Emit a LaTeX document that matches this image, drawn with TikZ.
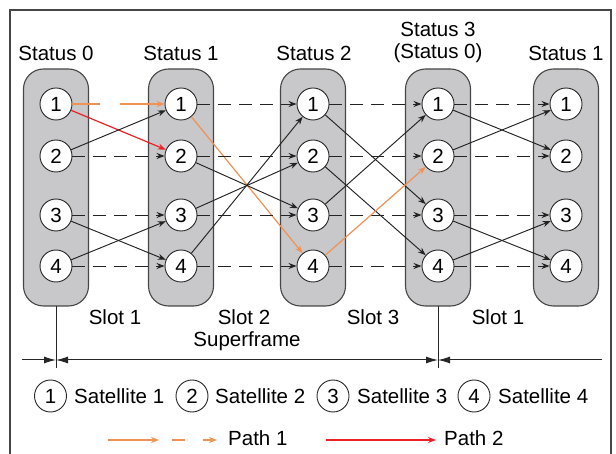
\documentclass[tikz,border=0pt]{standalone}
\usepackage{fontspec}
\setmainfont{Liberation Sans}
\usetikzlibrary{arrows.meta}
\definecolor{boxgray}{RGB}{200,200,202}
\definecolor{edgegray}{RGB}{70,70,70}
\definecolor{pathone}{RGB}{240,145,85}
\definecolor{pathtwo}{RGB}{236,32,38}
\definecolor{linkgray}{RGB}{35,35,35}
\tikzset{
  lane/.style={draw=edgegray, line width=1.1pt, fill=boxgray, rounded corners=20pt},
  sat/.style={circle, draw=black!85, line width=0.9pt, fill=white, minimum size=32pt, inner sep=0pt, font=\fontsize{20.5}{22}\selectfont},
  legsat/.style={circle, draw=black!85, line width=0.9pt, minimum size=32pt, inner sep=0pt, font=\fontsize{20.5}{22}\selectfont},
  lbl/.style={font=\fontsize{20.5}{24}\selectfont, inner sep=0pt},
  tip/.style={-{Stealth[length=8pt,width=6pt]}},
  link/.style={tip, draw=linkgray, line width=0.95pt},
  hop/.style={link, dash pattern=on 13pt off 8pt},
  pathA/.style={tip, draw=pathone, line width=1.2pt},
  pathAd/.style={pathA, dash pattern=on 28pt off 20pt on 60pt off 10pt},
  pathB/.style={tip, draw=pathtwo, line width=1.2pt},
  span/.style={draw=black!85, line width=1pt},
  spantip/.tip={Latex[length=12pt,width=7pt]}
}
\begin{document}
\begin{tikzpicture}[x=1pt,y=-1pt]
\useasboundingbox (0,0) rectangle (616,454);
% outer frame, open at the bottom
\draw[edgegray, line width=1.4pt] (10,470) -- (10,10) -- (611,10) -- (611,470);

% satellite lanes
\foreach \x in {56,181,313,438,566}{
  \draw[lane] (\x-32.5,69) rectangle (\x+32.5,306);
}

% status headings
\node[lbl] (s0) at (56,53) {Status 0};
\node[lbl] (s1) at (181,53) {Status 1};
\node[lbl] (s2) at (314,53) {Status 2};
\node[lbl] (s3) at (438,29) {Status 3};
\node[lbl] (s3b) at (438,53) {(Status 0)};
\node[lbl] (s4) at (566,53) {Status 1};

% satellites in each status
\foreach \c/\x in {0/56,1/181,2/313,3/438,4/566}{
  \foreach \r/\y in {1/104,2/156,3/215,4/266}{
    \node[sat] (c\c\r) at (\x,\y) {\r};
  }
}

% status 0 -> status 1
\draw[pathAd] (c01) -- (c11);
\draw[pathB] (c01) -- (c12);
\draw[link] (c02) -- (c11);
\draw[hop] (c02) -- (c12);
\draw[hop] (c03) -- (c13);
\draw[link] (c03) -- (c14);
\draw[link] (c04) -- (c13);
\draw[hop] (c04) -- (c14);

% status 1 -> status 2
\draw[hop] (c11) -- (c21);
\draw[pathA] (c11) -- (c24);
\draw[hop] (c12) -- (c22);
\draw[link] (c12) -- (c23);
\draw[link] (c13) -- (c22);
\draw[hop] (c13) -- (c23);
\draw[link] (c14) -- (c21);
\draw[hop] (c14) -- (c24);

% status 2 -> status 3
\draw[hop] (c21) -- (c31);
\draw[link] (c21) -- (c33);
\draw[hop] (c22) -- (c32);
\draw[link] (c22) -- (c34);
\draw[link] (c23) -- (c31);
\draw[hop] (c23) -- (c33);
\draw[pathA] (c24) -- (c32);
\draw[hop] (c24) -- (c34);

% status 3 -> status 1
\draw[hop] (c31) -- (c41);
\draw[link] (c31) -- (c42);
\draw[link] (c32) -- (c41);
\draw[hop] (c32) -- (c42);
\draw[hop] (c33) -- (c43);
\draw[link] (c33) -- (c44);
\draw[link] (c34) -- (c43);
\draw[hop] (c34) -- (c44);

% slot labels
\node[lbl] (sl1) at (115,317) {Slot 1};
\node[lbl] (sl2) at (244,317) {Slot 2};
\node[lbl] (sf) at (247,341) {Superframe};
\node[lbl] (sl3) at (373,317) {Slot 3};
\node[lbl] (sl4) at (498,317) {Slot 1};

% superframe extent
\coordinate (m0) at (56,306);
\coordinate (m0b) at (56,368);
\coordinate (m3) at (438,306);
\coordinate (m3b) at (438,368);
\coordinate (h0) at (22,360);
\coordinate (ha) at (56,360);
\coordinate (hb) at (438,360);
\coordinate (h1) at (602,360);
\draw[span] (m0) -- (m0b);
\draw[span] (m3) -- (m3b);
\draw[span, -spantip] (h0) -- (ha);
\draw[span, spantip-spantip] (ha) -- (hb);
\draw[span, spantip-] (hb) -- (h1);

% legend: satellites
\node[legsat] (l1) at (50.5,396) {1};
\node[lbl, anchor=west] (t1) at (74,396) {Satellite 1};
\node[legsat] (l2) at (192,396) {2};
\node[lbl, anchor=west] (t2) at (215,396) {Satellite 2};
\node[legsat] (l3) at (333,396) {3};
\node[lbl, anchor=west] (t3) at (357,396) {Satellite 3};
\node[legsat] (l4) at (474,396) {4};
\node[lbl, anchor=west] (t4) at (498,396) {Satellite 4};

% legend: paths
\coordinate (p1a) at (108,440);
\coordinate (p1b) at (159,440);
\coordinate (p1c) at (172,440);
\coordinate (p1d) at (217,440);
\draw[pathA] (p1a) -- (p1b);
\draw[pathA, dash pattern=on 13pt off 18pt] (p1c) -- (p1d);
\node[lbl, anchor=west] (pt1) at (228,438) {Path 1};
\coordinate (p2a) at (326,440);
\coordinate (p2b) at (436,440);
\draw[pathB] (p2a) -- (p2b);
\node[lbl, anchor=west] (pt2) at (444,438) {Path 2};
\end{tikzpicture}
\end{document}
